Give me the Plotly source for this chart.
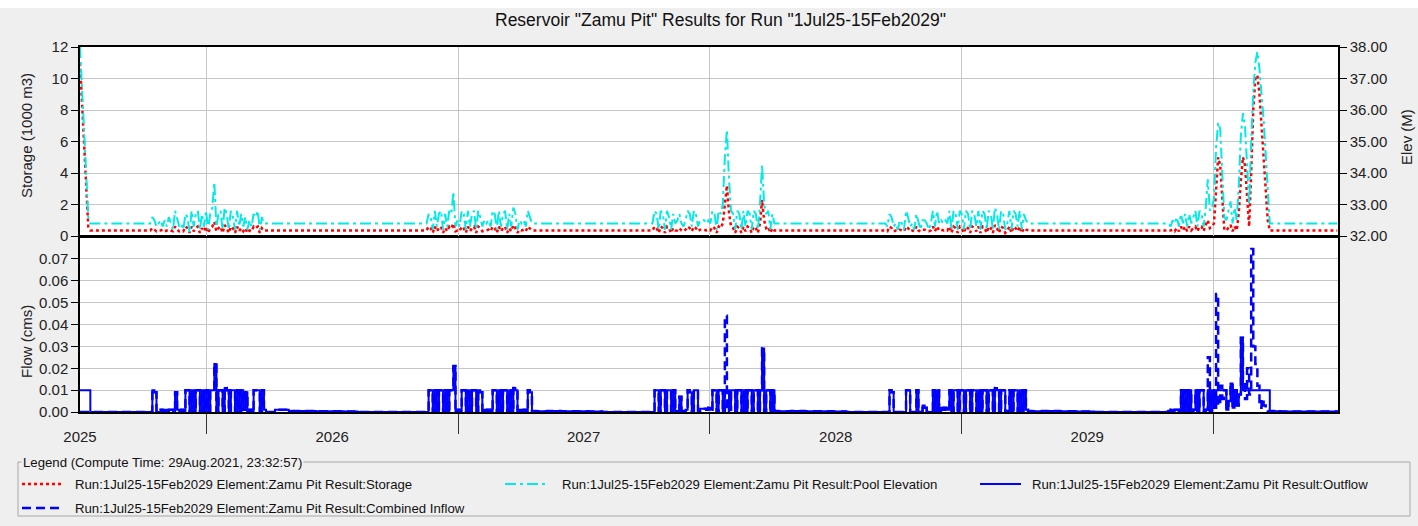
import pandas as pd
import plotly.graph_objects as go

# ---------------- DATA ----------------
# The record is stored as consecutive time segments: start date + time step (days).
# Each series holds one value list per segment (same lengths within a segment).
seg_start = ["2025-07-01", "2025-08-01", "2025-10-05", "2026-04-10", "2026-11-13", "2027-05-10",
             "2027-10-01", "2028-04-28", "2028-09-06", "2029-04-28", "2029-10-28", "2030-05-01"]
seg_step_days = [3, 30, 3, 20, 3, 20, 3, 20, 3, 25, 3, 30]

# Storage (1000 m3)
storage = [
    [11.0, 8.5, 6.0, 3.5, .6, .35],
    [.35, .35],
    [.35, .35, .35, .5, .4, .3, .35, .35, .4, .3,
     .35, .4, .35, .3, .6, .4, .3, .35, .3, .6,
     .5, .2, .6, .3, .5, .6, .2, .5, .3, .6,
     .2, .5, .6, .9, .3, .5, .6, .2, .7, .5,
     .2, .6, .5, .2, .6, .3, .5, .3, .5, .2,
     .35, .3, .6, .5, .6, .2, .5, .35, .35],
    [.35, .35, .35, .35, .35, .35, .35, .35, .35, .35, .35],
    [.35, .35, .6, .5, .2, .6, .3, .5, .6, .2,
     .5, .3, .6, .5, .8, .3, .35, .3, .6, .5,
     .2, .6, .3, .5, .6, .2, .6, .5, .3, .35,
     .35, .4, .3, .6, .5, .2, .6, .3, .5, .6,
     .2, .5, .3, .7, .5, .2, .4, .35, .4, .3,
     .6, .5, .35, .35, .35],
    [.35, .35, .35, .35, .35, .35, .35, .35],
    [.35, .35, .35, .35, .6, .5, .2, .6, .5, .2,
     .6, .5, .2, .5, .35, .35, .5, .35, .3, .4,
     .6, .5, .3, .6, .5, .3, .4, .4, .4, .35,
     .4, .35, .6, .5, .2, .6, .5, .8, 2.0, 3.2,
     1.5, .6, .5, .2, .6, .5, .2, .6, .3, .6,
     .5, .2, .6, .5, .2, .8, 2.3, 1.0, .5, .6,
     .2, .5, .35, .35, .35, .35],
    [.35, .35, .35, .35, .35, .35, .35],
    [.35, .35, .35, .3, .6, .5, .3, .35, .3, .4,
     .35, .3, .6, .5, .3, .35, .3, .6, .35, .3,
     .4, .4, .35, .3, .35, .6, .3, .6, .35, .4,
     .35, .4, .35, .6, .2, .6, .5, .2, .6, .5,
     .2, .6, .5, .2, .6, .5, .3, .6, .2, .6,
     .5, .2, .6, .5, .2, .7, .5, .2, .6, .5,
     .2, .35, .6, .2, .6, .5, .3, .6, .2, .5,
     .4, .35, .35, .35],
    [.35, .35, .35, .35, .35, .35, .35, .35],
    [.35, .35, .4, .3, .5, .3, .6, .35, .6, .3,
     .6, .35, .5, .6, .3, .6, .6, .3, .7, 1.0,
     .5, .6, .8, 3.0, 5.0, 4.5, 2.0, .4, .35, .5,
     .7, .3, .6, .35, 1.5, 3.5, 5.0, 4.5, 2.5, .6,
     4.0, 8.0, 10.0, 10.2, 9.0, 7.0, 5.0, 3.0, 1.0, .35,
     .35, .35, .35, .35, .35, .35, .35],
    [.35, .35, .35],
]

# Pool elevation (m)
pool_elev = [
    [38.0, 36.6, 35.3, 34.0, 32.6, 32.4],
    [32.4, 32.4],
    [32.4, 32.4, 32.4, 32.6, 32.5, 32.3, 32.4, 32.5, 32.3, 32.5,
     32.3, 32.6, 32.4, 32.2, 32.8, 32.5, 32.3, 32.4, 32.2, 32.7,
     32.6, 32.1, 32.8, 32.3, 32.7, 32.8, 32.2, 32.7, 32.3, 32.8,
     32.2, 32.7, 32.9, 33.7, 32.3, 32.7, 32.8, 32.2, 32.9, 32.7,
     32.2, 32.8, 32.6, 32.2, 32.8, 32.3, 32.7, 32.3, 32.6, 32.2,
     32.5, 32.3, 32.7, 32.6, 32.8, 32.2, 32.6, 32.4, 32.4],
    [32.4, 32.4, 32.4, 32.4, 32.4, 32.4, 32.4, 32.4, 32.4, 32.4, 32.4],
    [32.4, 32.4, 32.7, 32.6, 32.2, 32.8, 32.3, 32.7, 32.8, 32.2,
     32.7, 32.3, 32.8, 32.7, 33.4, 32.3, 32.5, 32.3, 32.8, 32.7,
     32.2, 32.8, 32.3, 32.7, 32.8, 32.2, 32.8, 32.6, 32.3, 32.5,
     32.4, 32.5, 32.3, 32.8, 32.7, 32.2, 32.8, 32.3, 32.7, 32.8,
     32.2, 32.7, 32.3, 32.9, 32.7, 32.2, 32.5, 32.4, 32.5, 32.3,
     32.8, 32.6, 32.4, 32.4, 32.4],
    [32.4, 32.4, 32.4, 32.4, 32.4, 32.4, 32.4, 32.4],
    [32.4, 32.4, 32.4, 32.4, 32.8, 32.7, 32.2, 32.8, 32.7, 32.2,
     32.8, 32.6, 32.2, 32.7, 32.4, 32.5, 32.7, 32.4, 32.3, 32.5,
     32.8, 32.7, 32.3, 32.8, 32.7, 32.3, 32.5, 32.5, 32.5, 32.4,
     32.5, 32.4, 32.8, 32.7, 32.2, 32.8, 32.7, 33.0, 34.5, 35.37,
     33.8, 32.8, 32.7, 32.2, 32.8, 32.7, 32.2, 32.8, 32.3, 32.8,
     32.7, 32.2, 32.8, 32.7, 32.2, 33.0, 34.25, 33.0, 32.7, 32.8,
     32.2, 32.7, 32.4, 32.4, 32.4, 32.4],
    [32.4, 32.4, 32.4, 32.4, 32.4, 32.4, 32.4],
    [32.4, 32.4, 32.4, 32.3, 32.7, 32.6, 32.3, 32.4, 32.2, 32.5,
     32.4, 32.2, 32.8, 32.6, 32.3, 32.4, 32.2, 32.7, 32.4, 32.2,
     32.5, 32.5, 32.4, 32.2, 32.4, 32.8, 32.3, 32.8, 32.4, 32.5,
     32.4, 32.5, 32.4, 32.8, 32.2, 32.8, 32.7, 32.2, 32.8, 32.7,
     32.2, 32.8, 32.7, 32.2, 32.8, 32.7, 32.3, 32.8, 32.2, 32.8,
     32.7, 32.2, 32.8, 32.7, 32.2, 32.9, 32.7, 32.2, 32.8, 32.7,
     32.2, 32.4, 32.8, 32.2, 32.8, 32.7, 32.3, 32.8, 32.2, 32.7,
     32.5, 32.4, 32.4, 32.4],
    [32.4, 32.4, 32.4, 32.4, 32.4, 32.4, 32.4, 32.4],
    [32.4, 32.3, 32.5, 32.4, 32.6, 32.3, 32.7, 32.4, 32.7, 32.3,
     32.7, 32.4, 32.6, 32.8, 32.3, 32.8, 32.7, 32.3, 32.9, 33.8,
     32.8, 32.9, 33.2, 34.8, 35.6, 35.4, 34.0, 32.6, 32.5, 32.8,
     33.1, 32.4, 32.9, 32.5, 33.6, 35.2, 35.9, 35.5, 34.2, 33.0,
     35.0, 36.6, 37.5, 37.85, 37.3, 36.6, 35.7, 34.6, 33.3, 32.4,
     32.4, 32.4, 32.4, 32.4, 32.4, 32.4, 32.4],
    [32.4, 32.4, 32.4],
]

# Outflow (litres per second; 1 L/s = 0.001 cms)
outflow_Ls = [
    [10, 10, 10, 10, 10, 0],
    [0, 0],
    [0, 0, 0, 10, 9, 0, 0, 1, 0, 1,
     0, 1, 1, 0, 9, 1, 0, 1, 0, 10,
     10, 0, 10, 0, 10, 10, 0, 10, 0, 10,
     0, 10, 10, 22, 0, 10, 10, 0, 11, 10,
     0, 10, 10, 0, 10, 0, 10, 1, 9, 0,
     1, 0, 10, 10, 10, 0, 10, 1, 0],
    [1, 0.5, 0.5, 0.3, 0.3, 0.2, 0, 0, 0, 0, 0],
    [0, 0, 10, 10, 0, 10, 0, 10, 10, 0,
     10, 0, 10, 10, 21, 0, 1, 0, 10, 10,
     0, 10, 0, 10, 10, 0, 10, 9, 0, 1,
     0.5, 1, 0, 10, 10, 0, 10, 0, 10, 10,
     0, 10, 0, 11, 10, 0, 1, 0.5, 1, 0,
     10, 9, 0.5, 0.5, 0.3],
    [0.5, 0.3, 0.3, 0.2, 0, 0, 0, 0],
    [0, 0, 0, 0, 10, 10, 0, 10, 10, 0,
     10, 10, 0, 10, 0.5, 0.5, 7, 0.5, 0.5, 1,
     10, 9, 0.5, 10, 10, 0.5, 1.5, 1.5, 1.5, 1,
     2, 1, 10, 10, 0, 10, 10, 0, 10, 10,
     1, 10, 10, 0, 10, 10, 0, 10, 0, 10,
     10, 0, 10, 10, 0, 10, 29, 0, 10, 10,
     0, 10, 0.5, 0.5, 0.3, 0.3],
    [0.5, 0.3, 0.3, 0.2, 0, 0, 0],
    [0, 0, 0, 0, 10, 9, 0, 0, 0, 0,
     0, 0, 10, 10, 0, 0, 0, 10, 0, 0,
     3, 2, 0, 0, 0, 10, 0, 10, 0.5, 2,
     1, 2, 1, 10, 0, 10, 10, 0, 10, 10,
     0, 10, 10, 0, 10, 10, 0.5, 10, 0, 10,
     10, 0, 10, 10, 0, 11, 10, 0, 10, 10,
     0, 0.5, 10, 0, 10, 10, 0.5, 10, 0, 10,
     1, 0.5, 0.5, 0.3],
    [0.5, 0.3, 0.2, 0, 0, 0, 0, 0],
    [0.5, 1, 0.5, 1, 1, 0.5, 10, 0.5, 10, 0.5,
     10, 0.5, 1, 10, 0.5, 10, 10, 0.5, 1, 10,
     0, 10, 2, 10, 10, 10, 10, 10, 1, 5,
     13, 2, 10, 3, 8, 34, 10, 10, 10, 10,
     10, 10, 10, 10, 10, 10, 10, 10, 10, 0,
     0.5, 0.3, 0.3, 0.3, 0.2, 0.2, 0.2],
    [0.2, 0.2, 0.1],
]

# Combined inflow (L/s): equal to the outflow except in these segments
inflow_differs_Ls = {
    0: [0, 0, 0, 0, 0, 0],
    6: [0, 0, 0, 0, 10, 10, 0, 10, 10, 0,
        10, 10, 0, 10, 0.5, 0.5, 7, 0.5, 0.5, 1,
        10, 9, 0.5, 10, 10, 0.5, 1.5, 1.5, 1.5, 1,
        2, 1, 10, 10, 0, 10, 10, 0, 44, 0,
        1, 10, 10, 0, 10, 10, 0, 10, 0, 10,
        10, 0, 10, 10, 0, 10, 29, 0, 10, 10,
        0, 10, 0.5, 0.5, 0.3, 0.3],
    10: [0.5, 1, 0.5, 1, 1, 0.5, 10, 0.5, 10, 0.5,
         10, 0.5, 1, 10, 0.5, 10, 10, 0.5, 1, 25,
         0, 10, 2, 54, 3, 12, 6, 10, 1, 5,
         13, 2, 10, 3, 8, 34, 15, 6, 20, 8,
         74.5, 30, 22, 12, 2, 6, 3, 1, 0.5, 0,
         0.5, 0.3, 0.3, 0.3, 0.2, 0.2, 0.2],
}

# Axis ticks / labels
year_label_dates = ["2025-07-01", "2026-07-02", "2027-07-02", "2028-07-02", "2029-07-02"]
year_labels = ["2025", "2026", "2027", "2028", "2029"]
year_bounds = ["2026-01-01", "2027-01-01", "2028-01-01", "2029-01-01", "2030-01-01"]
x_range = ["2025-07-01", "2030-07-01"]
storage_ticks = [0, 2, 4, 6, 8, 10, 12]
elev_ticks = [32, 33, 34, 35, 36, 37, 38]
flow_ticks = [0, 0.01, 0.02, 0.03, 0.04, 0.05, 0.06, 0.07]

title_text = 'Reservoir "Zamu Pit" Results for Run "1Jul25-15Feb2029"'
legend_title = "Legend (Compute Time: 29Aug.2021, 23:32:57)"
names = {
    "storage": "Run:1Jul25-15Feb2029 Element:Zamu Pit Result:Storage",
    "elev": "Run:1Jul25-15Feb2029 Element:Zamu Pit Result:Pool Elevation",
    "outflow": "Run:1Jul25-15Feb2029 Element:Zamu Pit Result:Outflow",
    "inflow": "Run:1Jul25-15Feb2029 Element:Zamu Pit Result:Combined Inflow",
}

# ---------------- BUILD SERIES ----------------
dates, s_vals, e_vals, o_vals, i_vals = [], [], [], [], []
for k, (start, step) in enumerate(zip(seg_start, seg_step_days)):
    n = len(storage[k])
    inflow_seg = inflow_differs_Ls.get(k, outflow_Ls[k])
    if not (len(pool_elev[k]) == n == len(outflow_Ls[k]) == len(inflow_seg)):
        raise ValueError(f"segment {k} length mismatch: {n}, {len(pool_elev[k])}, "
                         f"{len(outflow_Ls[k])}, {len(inflow_seg)}")
    dates += list(pd.date_range(start, periods=n, freq=f"{step}D"))
    s_vals += storage[k]
    e_vals += pool_elev[k]
    o_vals += [v / 1000.0 for v in outflow_Ls[k]]
    i_vals += [v / 1000.0 for v in inflow_seg]

# ---------------- STYLE ----------------
RED, CYAN, BLUE = "#ff0000", "#00eaea", "#0000ff"
DASH = {"storage": "3px,3px", "elev": "11px,4px,3px,4px", "inflow": "9px,5px"}
FONT = "Liberation Sans, Arial, sans-serif"
PAPER = "#efefef"
GRID = "#c6c6c6"

W, H = 1418, 526
PL, PR, PT, PB = 80, 1338, 47, 412


def fx(px):
    return (px - PL) / (PR - PL)


def fy(py):
    return (PB - py) / (PB - PT)


fig = go.Figure()
fig.add_trace(go.Scatter(x=dates, y=e_vals, xaxis="x2", yaxis="y3", mode="lines",
                         line=dict(color=CYAN, width=2, dash=DASH["elev"]), name=names["elev"]))
fig.add_trace(go.Scatter(x=dates, y=s_vals, xaxis="x2", yaxis="y2", mode="lines",
                         line=dict(color=RED, width=2.5, dash=DASH["storage"]), name=names["storage"]))
fig.add_trace(go.Scatter(x=dates, y=o_vals, xaxis="x", yaxis="y", mode="lines",
                         line=dict(color=BLUE, width=2, shape="hv"), name=names["outflow"]))
fig.add_trace(go.Scatter(x=dates, y=i_vals, xaxis="x", yaxis="y", mode="lines",
                         line=dict(color=BLUE, width=2.5, dash=DASH["inflow"], shape="hv"),
                         name=names["inflow"]))

bottom_dom = [0, fy(237)]
top_dom = [fy(236), 1]
tickfont = dict(family=FONT, size=15, color="#222")

fig.update_layout(
    width=W, height=H, autosize=False,
    margin=dict(l=PL, r=W - PR, t=PT, b=H - PB, pad=0),
    paper_bgcolor=PAPER, plot_bgcolor="#ffffff",
    showlegend=False,
    font=dict(family=FONT, size=15, color="#222"),
    xaxis=dict(domain=[0, 1], anchor="y", type="date", range=x_range,
               tickmode="array", tickvals=year_label_dates, ticktext=year_labels,
               ticks="", showgrid=False, zeroline=False, tickfont=tickfont,
               showline=True, linecolor="black", linewidth=1.5, mirror=True,
               ticklabelstandoff=10,
               minor=dict(tickmode="array", tickvals=year_bounds, ticks="outside",
                          ticklen=20, tickwidth=1, tickcolor="#333",
                          showgrid=True, gridcolor=GRID, gridwidth=1)),
    xaxis2=dict(domain=[0, 1], anchor="y2", type="date", matches="x", range=x_range,
                showticklabels=False, tickmode="array", tickvals=year_label_dates,
                ticks="", showgrid=False, zeroline=False,
                showline=True, linecolor="black", linewidth=2, mirror=True,
                minor=dict(tickmode="array", tickvals=year_bounds, ticks="",
                           showgrid=True, gridcolor=GRID, gridwidth=1)),
    yaxis=dict(domain=bottom_dom, anchor="x", range=[0, 0.08], tickmode="array",
               tickvals=flow_ticks, tickformat=".2f", ticks="outside", ticklen=7,
               tickcolor="black", tickfont=tickfont, showgrid=True, gridcolor=GRID,
               zeroline=False, showline=True, linecolor="black", linewidth=1.5, mirror=True),
    yaxis2=dict(domain=top_dom, anchor="x2", range=[0, 12], tickmode="array",
                tickvals=storage_ticks, ticks="outside", ticklen=7, tickcolor="black",
                tickfont=tickfont, showgrid=True, gridcolor=GRID, zeroline=False,
                showline=True, linecolor="black", linewidth=1.5),
    yaxis3=dict(overlaying="y2", anchor="x2", side="right", range=[32, 38], tickmode="array",
                tickvals=elev_ticks, tickformat=".2f", ticks="outside", ticklen=7,
                tickcolor="black", tickfont=tickfont, showgrid=False, zeroline=False,
                showline=True, linecolor="black", linewidth=1.5),
)

# Title and axis titles
ann = [
    dict(text=title_text, x=fx(720), y=fy(20), xref="paper", yref="paper",
         showarrow=False, xanchor="center", yanchor="middle",
         font=dict(family=FONT, size=17.5, color="#111")),
    dict(text="Storage (1000 m3)", x=fx(26), y=fy(136), xref="paper", yref="paper",
         showarrow=False, textangle=-90, xanchor="center", yanchor="middle",
         font=dict(family=FONT, size=15, color="#222")),
    dict(text="Elev (M)", x=fx(1406), y=fy(137), xref="paper", yref="paper",
         showarrow=False, textangle=-90, xanchor="center", yanchor="middle",
         font=dict(family=FONT, size=15, color="#222")),
    dict(text="Flow (cms)", x=fx(26), y=fy(342), xref="paper", yref="paper",
         showarrow=False, textangle=-90, xanchor="center", yanchor="middle",
         font=dict(family=FONT, size=15, color="#222")),
]

shapes = [
    # white strip at the very top of the window
    dict(type="rect", xref="paper", yref="paper", x0=fx(0), x1=fx(W), y0=fy(8), y1=fy(0),
         fillcolor="#ffffff", line=dict(width=0), layer="below"),
    # legend frame
    dict(type="rect", xref="paper", yref="paper", x0=fx(18), x1=fx(1410), y0=fy(516), y1=fy(462),
         fillcolor="rgba(0,0,0,0)", line=dict(color="#a8a8a8", width=1)),
]

legend_font = dict(family=FONT, size=13.2, color="#111")
ann.append(dict(text=legend_title, x=fx(21), y=fy(462), xref="paper", yref="paper",
                showarrow=False, xanchor="left", yanchor="middle", bgcolor=PAPER,
                borderpad=1, font=legend_font))

legend_items = [
    ("storage", RED, 2.5, DASH["storage"], 22, 64, 73, 484),
    ("elev", CYAN, 2, DASH["elev"], 505, 548, 560, 484),
    ("outflow", BLUE, 2, "solid", 980, 1021, 1030, 484),
    ("inflow", BLUE, 2.5, DASH["inflow"], 22, 64, 73, 508),
]
for key, col, wdt, dash, sx0, sx1, tx, ty in legend_items:
    shapes.append(dict(type="line", xref="paper", yref="paper", x0=fx(sx0), x1=fx(sx1),
                       y0=fy(ty), y1=fy(ty), line=dict(color=col, width=wdt, dash=dash)))
    ann.append(dict(text=names[key], x=fx(tx), y=fy(ty), xref="paper", yref="paper",
                    showarrow=False, xanchor="left", yanchor="middle", font=legend_font))

fig.update_layout(annotations=ann, shapes=shapes)

fig.write_html("out.html", include_plotlyjs=True, config={"displayModeBar": False},
               post_script="document.body.style.margin='0';document.body.style.overflow='hidden';")
